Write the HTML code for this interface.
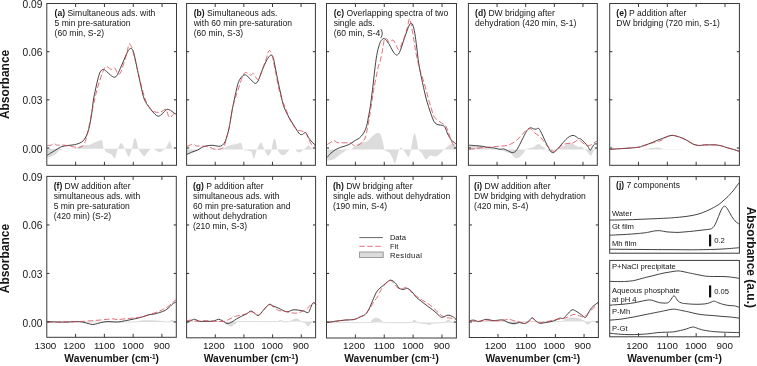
<!DOCTYPE html>
<html><head><meta charset="utf-8"><style>
html,body{margin:0;padding:0;background:#fff;}
svg{display:block;filter:blur(0.3px);}
</style></head><body>
<svg width="757" height="366" viewBox="0 0 757 366">
<rect width="757" height="366" fill="#fff"/>
<g font-family='"Liberation Sans", sans-serif'>
<text x="54.60" y="15.70" font-size="8.55" fill="#151515"><tspan font-weight="bold">(a)</tspan> Simultaneous ads. with</text>
<text x="54.60" y="25.70" font-size="8.55" fill="#151515">5 min pre-saturation</text>
<text x="54.60" y="35.70" font-size="8.55" fill="#151515">(60 min, S-2)</text>
<path d="M47.20,157.80 C48.10,157.52 50.98,156.92 52.60,156.10 C54.22,155.28 55.63,153.90 56.90,152.90 C58.17,151.90 58.73,150.78 60.20,150.10 C61.67,149.42 64.07,149.05 65.70,148.80 C67.33,148.55 68.37,148.73 70.00,148.60 C71.63,148.47 74.03,148.28 75.50,148.00 C76.97,147.72 77.33,147.37 78.80,146.90 C80.27,146.43 82.48,145.57 84.30,145.20 C86.12,144.83 88.07,145.15 89.70,144.70 C91.33,144.25 92.82,143.05 94.10,142.50 C95.38,141.95 96.32,141.77 97.40,141.40 C98.48,141.03 99.78,140.27 100.60,140.30 C101.42,140.33 101.83,140.32 102.30,141.60 C102.77,142.88 103.03,146.73 103.40,148.00 C103.77,149.27 103.97,148.48 104.50,149.20 C105.03,149.92 105.53,151.50 106.60,152.30 C107.67,153.10 109.53,153.00 110.90,154.00 C112.27,155.00 113.87,158.47 114.80,158.30 C115.73,158.13 115.97,154.58 116.50,153.00 C117.03,151.42 117.50,150.13 118.00,148.80 C118.50,147.47 118.95,145.97 119.50,145.00 C120.05,144.03 120.72,143.00 121.30,143.00 C121.88,143.00 122.42,144.03 123.00,145.00 C123.58,145.97 124.13,147.30 124.80,148.80 C125.47,150.30 126.30,152.68 127.00,154.00 C127.70,155.32 128.42,156.87 129.00,156.70 C129.58,156.53 130.00,154.32 130.50,153.00 C131.00,151.68 131.50,150.80 132.00,148.80 C132.50,146.80 133.00,142.78 133.50,141.00 C134.00,139.22 134.50,138.10 135.00,138.10 C135.50,138.10 135.92,139.22 136.50,141.00 C137.08,142.78 137.67,146.72 138.50,148.80 C139.33,150.88 140.53,152.28 141.50,153.50 C142.47,154.72 143.30,156.27 144.30,156.10 C145.30,155.93 146.47,153.68 147.50,152.50 C148.53,151.32 149.58,149.62 150.50,149.00 C151.42,148.38 152.25,148.72 153.00,148.80 C153.75,148.88 154.33,149.13 155.00,149.50 C155.67,149.87 156.23,150.53 157.00,151.00 C157.77,151.47 158.77,152.30 159.60,152.30 C160.43,152.30 161.10,151.55 162.00,151.00 C162.90,150.45 164.17,149.83 165.00,149.00 C165.83,148.17 166.27,147.27 167.00,146.00 C167.73,144.73 168.73,141.73 169.40,141.40 C170.07,141.07 170.45,142.77 171.00,144.00 C171.55,145.23 171.82,148.00 172.70,148.80 C173.58,149.60 175.70,148.80 176.30,148.80 L176.30,148.70 L47.20,148.70 Z" fill="#dcdcdc" stroke="none"/>
<path d="M47.20,155.30 C47.75,154.95 49.25,153.98 50.50,153.20 C51.75,152.42 52.90,151.67 54.70,150.60 C56.50,149.53 59.12,147.65 61.30,146.80 C63.48,145.95 65.62,145.85 67.80,145.50 C69.98,145.15 72.40,145.12 74.40,144.70 C76.40,144.28 78.35,143.65 79.80,143.00 C81.25,142.35 82.10,141.80 83.10,140.80 C84.10,139.80 84.98,138.53 85.80,137.00 C86.62,135.47 87.35,133.60 88.00,131.60 C88.65,129.60 89.08,127.93 89.70,125.00 C90.32,122.07 91.08,118.17 91.70,114.00 C92.32,109.83 92.75,104.17 93.40,100.00 C94.05,95.83 94.78,92.75 95.60,89.00 C96.42,85.25 97.52,80.37 98.30,77.50 C99.08,74.63 99.50,73.15 100.30,71.80 C101.10,70.45 102.07,69.47 103.10,69.40 C104.13,69.33 105.25,70.43 106.50,71.40 C107.75,72.37 109.35,74.23 110.60,75.20 C111.85,76.17 112.98,77.10 114.00,77.20 C115.02,77.30 115.67,77.22 116.70,75.80 C117.73,74.38 118.93,71.48 120.20,68.70 C121.47,65.92 123.05,61.95 124.30,59.10 C125.55,56.25 126.68,53.37 127.70,51.60 C128.72,49.83 129.58,48.80 130.40,48.50 C131.22,48.20 131.93,48.65 132.60,49.80 C133.27,50.95 133.57,51.93 134.40,55.40 C135.23,58.87 136.52,65.52 137.60,70.60 C138.68,75.68 139.80,81.17 140.90,85.90 C142.00,90.63 142.92,95.55 144.20,99.00 C145.48,102.45 147.15,104.43 148.60,106.60 C150.05,108.77 151.45,110.43 152.90,112.00 C154.35,113.57 156.02,115.45 157.30,116.00 C158.58,116.55 159.52,115.97 160.60,115.30 C161.68,114.63 162.72,112.98 163.80,112.00 C164.88,111.02 166.00,109.68 167.10,109.40 C168.20,109.12 169.30,109.75 170.40,110.30 C171.50,110.85 172.72,112.05 173.70,112.70 C174.68,113.35 175.87,113.95 176.30,114.20" fill="none" stroke="#383838" stroke-width="0.95"/>
<path d="M47.20,145.50 C47.82,145.45 49.73,145.55 50.90,145.20 C52.07,144.85 53.20,143.40 54.20,143.40 C55.20,143.40 55.53,144.93 56.90,145.20 C58.27,145.47 60.58,144.92 62.40,145.00 C64.22,145.08 65.98,145.40 67.80,145.70 C69.62,146.00 71.47,146.52 73.30,146.80 C75.13,147.08 77.17,147.58 78.80,147.40 C80.43,147.22 82.02,146.70 83.10,145.70 C84.18,144.70 84.57,143.40 85.30,141.40 C86.03,139.40 86.83,136.43 87.50,133.70 C88.17,130.97 88.55,128.78 89.30,125.00 C90.05,121.22 91.08,115.33 92.00,111.00 C92.92,106.67 93.98,102.50 94.80,99.00 C95.62,95.50 96.08,93.00 96.90,90.00 C97.72,87.00 98.78,83.87 99.70,81.00 C100.62,78.13 101.50,75.08 102.40,72.80 C103.30,70.52 104.18,68.22 105.10,67.30 C106.02,66.38 106.87,66.95 107.90,67.30 C108.93,67.65 110.28,69.28 111.30,69.40 C112.32,69.52 113.32,68.12 114.00,68.00 C114.68,67.88 114.72,67.67 115.40,68.70 C116.08,69.73 117.20,73.63 118.10,74.20 C119.00,74.77 119.77,74.15 120.80,72.10 C121.83,70.05 123.27,65.08 124.30,61.90 C125.33,58.72 126.22,55.97 127.00,53.00 C127.78,50.03 128.20,45.02 129.00,44.10 C129.80,43.18 131.00,45.68 131.80,47.50 C132.60,49.32 133.00,51.88 133.80,55.00 C134.60,58.12 135.60,62.15 136.60,66.20 C137.60,70.25 138.72,74.93 139.80,79.30 C140.88,83.67 142.00,88.58 143.10,92.40 C144.20,96.22 145.13,99.47 146.40,102.20 C147.67,104.93 149.25,107.17 150.70,108.80 C152.15,110.43 153.45,111.47 155.10,112.00 C156.75,112.53 158.78,112.43 160.60,112.00 C162.42,111.57 164.73,108.85 166.00,109.40 C167.27,109.95 167.47,113.95 168.20,115.30 C168.93,116.65 169.48,117.75 170.40,117.50 C171.32,117.25 172.72,114.35 173.70,113.80 C174.68,113.25 175.87,114.13 176.30,114.20" fill="none" stroke="#d83c4a" stroke-width="0.75" stroke-dasharray="5.6,2.5"/>
<rect x="46.80" y="3.50" width="129.70" height="161.80" fill="none" stroke="#3a3a3a" stroke-width="1"/>
<line x1="75.62" y1="3.50" x2="75.62" y2="7.00" stroke="#3a3a3a" stroke-width="1"/>
<line x1="75.62" y1="165.30" x2="75.62" y2="161.80" stroke="#3a3a3a" stroke-width="1"/>
<line x1="104.44" y1="3.50" x2="104.44" y2="7.00" stroke="#3a3a3a" stroke-width="1"/>
<line x1="104.44" y1="165.30" x2="104.44" y2="161.80" stroke="#3a3a3a" stroke-width="1"/>
<line x1="133.27" y1="3.50" x2="133.27" y2="7.00" stroke="#3a3a3a" stroke-width="1"/>
<line x1="133.27" y1="165.30" x2="133.27" y2="161.80" stroke="#3a3a3a" stroke-width="1"/>
<line x1="162.09" y1="3.50" x2="162.09" y2="7.00" stroke="#3a3a3a" stroke-width="1"/>
<line x1="162.09" y1="165.30" x2="162.09" y2="161.80" stroke="#3a3a3a" stroke-width="1"/>
<line x1="46.80" y1="148.00" x2="49.40" y2="148.00" stroke="#3a3a3a" stroke-width="1.1"/>
<line x1="176.50" y1="148.00" x2="173.90" y2="148.00" stroke="#3a3a3a" stroke-width="1.1"/>
<line x1="46.80" y1="99.83" x2="49.40" y2="99.83" stroke="#3a3a3a" stroke-width="1.1"/>
<line x1="176.50" y1="99.83" x2="173.90" y2="99.83" stroke="#3a3a3a" stroke-width="1.1"/>
<line x1="46.80" y1="51.66" x2="49.40" y2="51.66" stroke="#3a3a3a" stroke-width="1.1"/>
<line x1="176.50" y1="51.66" x2="173.90" y2="51.66" stroke="#3a3a3a" stroke-width="1.1"/>
<text x="193.70" y="15.70" font-size="8.55" fill="#151515"><tspan font-weight="bold">(b)</tspan> Simultaneous ads.</text>
<text x="193.70" y="25.70" font-size="8.55" fill="#151515">with 60 min pre-saturation</text>
<text x="193.70" y="35.70" font-size="8.55" fill="#151515">(60 min, S-3)</text>
<path d="M187.00,154.40 C187.78,154.17 190.27,153.48 191.70,153.00 C193.13,152.52 194.17,152.03 195.60,151.50 C197.03,150.97 199.07,150.17 200.30,149.80 C201.53,149.43 201.38,149.40 203.00,149.30 C204.62,149.20 207.83,149.25 210.00,149.20 C212.17,149.15 213.95,149.10 216.00,149.00 C218.05,148.90 220.45,149.05 222.30,148.60 C224.15,148.15 225.50,146.93 227.10,146.30 C228.70,145.67 230.47,145.13 231.90,144.80 C233.33,144.47 234.43,144.62 235.70,144.30 C236.97,143.98 238.55,143.05 239.50,142.90 C240.45,142.75 240.83,142.45 241.40,143.40 C241.97,144.35 242.25,147.40 242.90,148.60 C243.55,149.80 244.27,150.20 245.30,150.60 C246.33,151.00 248.07,150.77 249.10,151.00 C250.13,151.23 250.72,150.72 251.50,152.00 C252.28,153.28 253.13,158.37 253.80,158.70 C254.47,159.03 255.02,155.45 255.50,154.00 C255.98,152.55 256.20,151.33 256.70,150.00 C257.20,148.67 257.78,147.27 258.50,146.00 C259.22,144.73 260.25,142.40 261.00,142.40 C261.75,142.40 262.45,144.80 263.00,146.00 C263.55,147.20 263.80,148.43 264.30,149.60 C264.80,150.77 265.35,151.97 266.00,153.00 C266.65,154.03 267.45,155.80 268.20,155.80 C268.95,155.80 269.95,154.03 270.50,153.00 C271.05,151.97 271.08,151.43 271.50,149.60 C271.92,147.77 272.52,143.83 273.00,142.00 C273.48,140.17 273.90,138.60 274.40,138.60 C274.90,138.60 275.48,140.17 276.00,142.00 C276.52,143.83 276.83,147.68 277.50,149.60 C278.17,151.52 279.08,152.55 280.00,153.50 C280.92,154.45 282.00,155.30 283.00,155.30 C284.00,155.30 285.00,154.38 286.00,153.50 C287.00,152.62 288.17,150.65 289.00,150.00 C289.83,149.35 290.00,149.67 291.00,149.60 C292.00,149.53 294.00,149.28 295.00,149.60 C296.00,149.92 296.30,151.02 297.00,151.50 C297.70,151.98 298.37,152.58 299.20,152.50 C300.03,152.42 301.20,151.48 302.00,151.00 C302.80,150.52 303.25,150.27 304.00,149.60 C304.75,148.93 305.70,147.72 306.50,147.00 C307.30,146.28 308.13,145.30 308.80,145.30 C309.47,145.30 309.78,146.28 310.50,147.00 C311.22,147.72 312.18,149.17 313.10,149.60 C314.02,150.03 315.52,149.60 316.00,149.60 L316.00,149.40 L187.00,149.40 Z" fill="#dcdcdc" stroke="none"/>
<path d="M187.00,154.40 C187.78,154.03 189.95,152.92 191.70,152.20 C193.45,151.48 195.73,150.93 197.50,150.10 C199.27,149.27 200.72,147.92 202.30,147.20 C203.88,146.48 205.25,146.12 207.00,145.80 C208.75,145.48 210.88,145.22 212.80,145.30 C214.72,145.38 216.92,146.30 218.50,146.30 C220.08,146.30 221.18,146.10 222.30,145.30 C223.42,144.50 224.40,143.10 225.20,141.50 C226.00,139.90 226.47,137.87 227.10,135.70 C227.73,133.53 228.43,131.12 229.00,128.50 C229.57,125.88 230.02,122.83 230.50,120.00 C230.98,117.17 231.28,114.83 231.90,111.50 C232.52,108.17 233.55,103.17 234.20,100.00 C234.85,96.83 235.12,95.40 235.80,92.50 C236.48,89.60 237.33,85.20 238.30,82.60 C239.27,80.00 240.50,78.20 241.60,76.90 C242.70,75.60 243.82,74.80 244.90,74.80 C245.98,74.80 246.88,75.87 248.10,76.90 C249.32,77.93 251.02,79.92 252.20,81.00 C253.38,82.08 254.23,83.40 255.20,83.40 C256.17,83.40 257.00,82.77 258.00,81.00 C259.00,79.23 259.98,75.80 261.20,72.80 C262.42,69.80 264.07,65.60 265.30,63.00 C266.53,60.40 267.63,58.52 268.60,57.20 C269.57,55.88 270.33,55.05 271.10,55.10 C271.87,55.15 272.62,56.02 273.20,57.50 C273.78,58.98 273.87,60.37 274.60,64.00 C275.33,67.63 276.55,74.20 277.60,79.30 C278.65,84.40 279.92,90.20 280.90,94.60 C281.88,99.00 282.43,102.42 283.50,105.70 C284.57,108.98 286.03,111.75 287.30,114.30 C288.57,116.85 289.67,118.60 291.10,121.00 C292.53,123.40 294.47,126.53 295.90,128.70 C297.33,130.87 298.58,133.05 299.70,134.00 C300.82,134.95 301.63,134.65 302.60,134.40 C303.57,134.15 304.55,132.02 305.50,132.50 C306.45,132.98 307.35,135.87 308.30,137.30 C309.25,138.73 310.23,139.98 311.20,141.10 C312.17,142.22 313.30,143.37 314.10,144.00 C314.90,144.63 315.68,144.75 316.00,144.90" fill="none" stroke="#383838" stroke-width="0.95"/>
<path d="M187.00,146.30 C187.32,146.22 188.15,146.12 188.90,145.80 C189.65,145.48 190.70,144.68 191.50,144.40 C192.30,144.12 192.95,143.85 193.70,144.10 C194.45,144.35 195.05,145.58 196.00,145.90 C196.95,146.22 197.88,145.93 199.40,146.00 C200.92,146.07 203.50,146.10 205.10,146.30 C206.70,146.50 207.40,146.73 209.00,147.20 C210.60,147.67 212.95,148.78 214.70,149.10 C216.45,149.42 218.07,149.33 219.50,149.10 C220.93,148.87 222.35,148.65 223.30,147.70 C224.25,146.75 224.65,145.08 225.20,143.40 C225.75,141.72 226.05,139.67 226.60,137.60 C227.15,135.53 227.93,133.43 228.50,131.00 C229.07,128.57 229.37,126.57 230.00,123.00 C230.63,119.43 231.47,113.60 232.30,109.60 C233.13,105.60 234.00,102.40 235.00,99.00 C236.00,95.60 237.20,92.48 238.30,89.20 C239.40,85.92 240.50,82.03 241.60,79.30 C242.70,76.57 243.82,73.75 244.90,72.80 C245.98,71.85 247.15,73.20 248.10,73.60 C249.05,74.00 249.78,75.20 250.60,75.20 C251.42,75.20 252.32,73.60 253.00,73.60 C253.68,73.60 254.02,74.25 254.70,75.20 C255.38,76.15 256.28,78.88 257.10,79.30 C257.92,79.72 258.63,79.60 259.60,77.70 C260.57,75.80 261.80,71.03 262.90,67.90 C264.00,64.77 265.18,61.77 266.20,58.90 C267.22,56.03 268.05,51.38 269.00,50.70 C269.95,50.02 271.00,52.22 271.90,54.80 C272.80,57.38 273.72,63.00 274.40,66.20 C275.08,69.40 275.28,70.37 276.00,74.00 C276.72,77.63 277.70,83.67 278.70,88.00 C279.70,92.33 280.88,96.73 282.00,100.00 C283.12,103.27 284.20,104.57 285.40,107.60 C286.60,110.63 287.93,115.32 289.20,118.20 C290.47,121.08 291.72,123.00 293.00,124.90 C294.28,126.80 295.78,128.65 296.90,129.60 C298.02,130.55 298.60,130.27 299.70,130.60 C300.80,130.93 302.38,131.12 303.50,131.60 C304.62,132.08 305.60,132.40 306.40,133.50 C307.20,134.60 307.50,136.45 308.30,138.20 C309.10,139.95 310.23,142.72 311.20,144.00 C312.17,145.28 313.30,145.65 314.10,145.90 C314.90,146.15 315.68,145.57 316.00,145.50" fill="none" stroke="#d83c4a" stroke-width="0.75" stroke-dasharray="5.6,2.5"/>
<rect x="186.60" y="3.50" width="128.80" height="161.80" fill="none" stroke="#3a3a3a" stroke-width="1"/>
<line x1="215.22" y1="3.50" x2="215.22" y2="7.00" stroke="#3a3a3a" stroke-width="1"/>
<line x1="215.22" y1="165.30" x2="215.22" y2="161.80" stroke="#3a3a3a" stroke-width="1"/>
<line x1="243.84" y1="3.50" x2="243.84" y2="7.00" stroke="#3a3a3a" stroke-width="1"/>
<line x1="243.84" y1="165.30" x2="243.84" y2="161.80" stroke="#3a3a3a" stroke-width="1"/>
<line x1="272.47" y1="3.50" x2="272.47" y2="7.00" stroke="#3a3a3a" stroke-width="1"/>
<line x1="272.47" y1="165.30" x2="272.47" y2="161.80" stroke="#3a3a3a" stroke-width="1"/>
<line x1="301.09" y1="3.50" x2="301.09" y2="7.00" stroke="#3a3a3a" stroke-width="1"/>
<line x1="301.09" y1="165.30" x2="301.09" y2="161.80" stroke="#3a3a3a" stroke-width="1"/>
<line x1="186.60" y1="148.00" x2="189.20" y2="148.00" stroke="#3a3a3a" stroke-width="1.1"/>
<line x1="315.40" y1="148.00" x2="312.80" y2="148.00" stroke="#3a3a3a" stroke-width="1.1"/>
<line x1="186.60" y1="99.83" x2="189.20" y2="99.83" stroke="#3a3a3a" stroke-width="1.1"/>
<line x1="315.40" y1="99.83" x2="312.80" y2="99.83" stroke="#3a3a3a" stroke-width="1.1"/>
<line x1="186.60" y1="51.66" x2="189.20" y2="51.66" stroke="#3a3a3a" stroke-width="1.1"/>
<line x1="315.40" y1="51.66" x2="312.80" y2="51.66" stroke="#3a3a3a" stroke-width="1.1"/>
<text x="333.70" y="15.70" font-size="8.55" fill="#151515"><tspan font-weight="bold">(c)</tspan> Overlapping spectra of two</text>
<text x="333.70" y="25.70" font-size="8.55" fill="#151515">single ads.</text>
<text x="333.70" y="35.70" font-size="8.55" fill="#151515">(60 min, S-4)</text>
<path d="M327.20,160.60 C328.23,160.40 331.55,160.22 333.40,159.40 C335.25,158.58 336.67,156.83 338.30,155.70 C339.93,154.57 341.77,153.53 343.20,152.60 C344.63,151.67 345.67,150.63 346.90,150.10 C348.13,149.57 349.37,150.02 350.60,149.40 C351.83,148.78 353.07,147.30 354.30,146.40 C355.53,145.50 356.57,144.72 358.00,144.00 C359.43,143.28 361.47,142.52 362.90,142.10 C364.33,141.68 365.37,142.10 366.60,141.50 C367.83,140.90 369.07,139.62 370.30,138.50 C371.53,137.38 372.77,135.73 374.00,134.80 C375.23,133.87 376.58,132.90 377.70,132.90 C378.82,132.90 379.78,133.05 380.70,134.80 C381.62,136.55 382.58,140.95 383.20,143.40 C383.82,145.85 383.77,148.15 384.40,149.50 C385.03,150.85 386.07,150.88 387.00,151.50 C387.93,152.12 389.08,152.12 390.00,153.20 C390.92,154.28 391.68,156.28 392.50,158.00 C393.32,159.72 394.15,163.67 394.90,163.50 C395.65,163.33 396.28,159.33 397.00,157.00 C397.72,154.67 398.52,151.05 399.20,149.50 C399.88,147.95 400.47,147.70 401.10,147.70 C401.73,147.70 402.27,148.62 403.00,149.50 C403.73,150.38 404.60,151.77 405.50,153.00 C406.40,154.23 407.57,157.07 408.40,156.90 C409.23,156.73 409.82,154.82 410.50,152.00 C411.18,149.18 411.82,143.08 412.50,140.00 C413.18,136.92 413.90,133.50 414.60,133.50 C415.30,133.50 416.05,137.33 416.70,140.00 C417.35,142.67 417.62,147.30 418.50,149.50 C419.38,151.70 420.80,151.57 422.00,153.20 C423.20,154.83 424.70,158.58 425.70,159.30 C426.70,160.02 427.18,158.12 428.00,157.50 C428.82,156.88 429.68,155.85 430.60,155.60 C431.52,155.35 432.48,155.88 433.50,156.00 C434.52,156.12 435.78,156.55 436.70,156.30 C437.62,156.05 438.18,155.22 439.00,154.50 C439.82,153.78 440.75,152.83 441.60,152.00 C442.45,151.17 443.20,150.33 444.10,149.50 C445.00,148.67 445.98,147.82 447.00,147.00 C448.02,146.18 449.03,145.10 450.20,144.60 C451.37,144.10 452.97,143.60 454.00,144.00 C455.03,144.40 456.00,146.50 456.40,147.00 L456.40,149.50 L327.20,149.50 Z" fill="#dcdcdc" stroke="none"/>
<path d="M327.10,157.50 C327.73,156.78 329.45,154.53 330.90,153.20 C332.35,151.87 334.15,150.48 335.80,149.50 C337.45,148.52 339.15,147.92 340.80,147.30 C342.45,146.68 344.07,146.42 345.70,145.80 C347.33,145.18 348.97,144.52 350.60,143.60 C352.23,142.68 354.07,141.20 355.50,140.30 C356.93,139.40 357.97,139.23 359.20,138.20 C360.43,137.17 361.87,135.53 362.90,134.10 C363.93,132.67 364.68,131.33 365.40,129.60 C366.12,127.87 366.70,125.80 367.20,123.70 C367.70,121.60 367.97,119.33 368.40,117.00 C368.83,114.67 369.27,113.03 369.80,109.70 C370.33,106.37 371.00,101.62 371.60,97.00 C372.20,92.38 372.80,87.17 373.40,82.00 C374.00,76.83 374.55,70.95 375.20,66.00 C375.85,61.05 376.50,56.17 377.30,52.30 C378.10,48.43 379.22,44.92 380.00,42.80 C380.78,40.68 381.40,40.30 382.00,39.60 C382.60,38.90 383.02,38.63 383.60,38.60 C384.18,38.57 384.83,38.83 385.50,39.40 C386.17,39.97 386.92,41.07 387.60,42.00 C388.28,42.93 388.83,43.67 389.60,45.00 C390.37,46.33 391.37,48.57 392.20,50.00 C393.03,51.43 393.87,52.77 394.60,53.60 C395.33,54.43 395.95,54.93 396.60,55.00 C397.25,55.07 397.88,54.75 398.50,54.00 C399.12,53.25 399.68,52.00 400.30,50.50 C400.92,49.00 401.53,47.00 402.20,45.00 C402.87,43.00 403.57,40.68 404.30,38.50 C405.03,36.32 405.77,34.15 406.60,31.90 C407.43,29.65 408.55,26.42 409.30,25.00 C410.05,23.58 410.52,23.40 411.10,23.40 C411.68,23.40 412.18,23.37 412.80,25.00 C413.42,26.63 414.15,29.53 414.80,33.20 C415.45,36.87 416.13,42.57 416.70,47.00 C417.27,51.43 417.68,56.02 418.20,59.80 C418.72,63.58 419.25,66.68 419.80,69.70 C420.35,72.72 420.87,74.90 421.50,77.90 C422.13,80.90 422.85,84.35 423.60,87.70 C424.35,91.05 425.18,94.87 426.00,98.00 C426.82,101.13 427.70,103.92 428.50,106.50 C429.30,109.08 429.85,110.95 430.80,113.50 C431.75,116.05 433.02,119.93 434.20,121.80 C435.38,123.67 436.47,124.10 437.90,124.70 C439.33,125.30 441.57,124.87 442.80,125.40 C444.03,125.93 444.48,126.47 445.30,127.90 C446.12,129.33 446.68,131.95 447.70,134.00 C448.72,136.05 450.28,138.77 451.40,140.20 C452.52,141.63 453.58,141.90 454.40,142.60 C455.22,143.30 455.98,144.10 456.30,144.40" fill="none" stroke="#383838" stroke-width="0.95"/>
<path d="M327.10,144.60 C327.67,144.25 329.35,143.15 330.50,142.50 C331.65,141.85 333.08,140.82 334.00,140.70 C334.92,140.58 335.28,141.45 336.00,141.80 C336.72,142.15 337.10,142.63 338.30,142.80 C339.50,142.97 341.15,142.75 343.20,142.80 C345.25,142.85 348.75,142.63 350.60,143.10 C352.45,143.57 352.87,145.35 354.30,145.60 C355.73,145.85 357.77,145.28 359.20,144.60 C360.63,143.92 361.87,142.73 362.90,141.50 C363.93,140.27 364.65,139.37 365.40,137.20 C366.15,135.03 366.75,131.70 367.40,128.50 C368.05,125.30 368.77,121.08 369.30,118.00 C369.83,114.92 370.10,113.20 370.60,110.00 C371.10,106.80 371.73,102.47 372.30,98.80 C372.87,95.13 373.28,91.97 374.00,88.00 C374.72,84.03 375.88,78.58 376.60,75.00 C377.32,71.42 377.73,68.68 378.30,66.50 C378.87,64.32 379.37,64.27 380.00,61.90 C380.63,59.53 381.42,55.87 382.10,52.30 C382.78,48.73 383.53,42.85 384.10,40.50 C384.67,38.15 384.98,38.37 385.50,38.20 C386.02,38.03 386.63,38.85 387.20,39.50 C387.77,40.15 388.27,41.85 388.90,42.10 C389.53,42.35 390.32,41.35 391.00,41.00 C391.68,40.65 392.38,39.83 393.00,40.00 C393.62,40.17 394.13,41.08 394.70,42.00 C395.27,42.92 395.77,44.23 396.40,45.50 C397.03,46.77 397.70,49.60 398.50,49.60 C399.30,49.60 400.45,47.10 401.20,45.50 C401.95,43.90 402.43,41.48 403.00,40.00 C403.57,38.52 403.88,38.63 404.60,36.60 C405.32,34.57 406.52,30.75 407.30,27.80 C408.08,24.85 408.73,19.82 409.30,18.90 C409.87,17.98 410.23,20.60 410.70,22.30 C411.17,24.00 411.53,25.92 412.10,29.10 C412.67,32.28 413.53,37.83 414.10,41.40 C414.67,44.97 414.95,47.43 415.50,50.50 C416.05,53.57 416.68,56.60 417.40,59.80 C418.12,63.00 418.85,66.42 419.80,69.70 C420.75,72.98 422.00,75.95 423.10,79.50 C424.20,83.05 425.43,87.45 426.40,91.00 C427.37,94.55 428.05,97.80 428.90,100.80 C429.75,103.80 430.73,106.53 431.50,109.00 C432.27,111.47 432.63,113.88 433.50,115.60 C434.37,117.32 435.35,118.07 436.70,119.30 C438.05,120.53 440.17,121.98 441.60,123.00 C443.03,124.02 444.28,124.17 445.30,125.40 C446.32,126.63 446.88,128.35 447.70,130.40 C448.52,132.45 449.25,135.25 450.20,137.70 C451.15,140.15 452.38,143.67 453.40,145.10 C454.42,146.53 455.82,146.10 456.30,146.30" fill="none" stroke="#d83c4a" stroke-width="0.75" stroke-dasharray="5.6,2.5"/>
<rect x="326.50" y="3.50" width="130.00" height="161.80" fill="none" stroke="#3a3a3a" stroke-width="1"/>
<line x1="355.39" y1="3.50" x2="355.39" y2="7.00" stroke="#3a3a3a" stroke-width="1"/>
<line x1="355.39" y1="165.30" x2="355.39" y2="161.80" stroke="#3a3a3a" stroke-width="1"/>
<line x1="384.28" y1="3.50" x2="384.28" y2="7.00" stroke="#3a3a3a" stroke-width="1"/>
<line x1="384.28" y1="165.30" x2="384.28" y2="161.80" stroke="#3a3a3a" stroke-width="1"/>
<line x1="413.17" y1="3.50" x2="413.17" y2="7.00" stroke="#3a3a3a" stroke-width="1"/>
<line x1="413.17" y1="165.30" x2="413.17" y2="161.80" stroke="#3a3a3a" stroke-width="1"/>
<line x1="442.06" y1="3.50" x2="442.06" y2="7.00" stroke="#3a3a3a" stroke-width="1"/>
<line x1="442.06" y1="165.30" x2="442.06" y2="161.80" stroke="#3a3a3a" stroke-width="1"/>
<line x1="326.50" y1="148.00" x2="329.10" y2="148.00" stroke="#3a3a3a" stroke-width="1.1"/>
<line x1="456.50" y1="148.00" x2="453.90" y2="148.00" stroke="#3a3a3a" stroke-width="1.1"/>
<line x1="326.50" y1="99.83" x2="329.10" y2="99.83" stroke="#3a3a3a" stroke-width="1.1"/>
<line x1="456.50" y1="99.83" x2="453.90" y2="99.83" stroke="#3a3a3a" stroke-width="1.1"/>
<line x1="326.50" y1="51.66" x2="329.10" y2="51.66" stroke="#3a3a3a" stroke-width="1.1"/>
<line x1="456.50" y1="51.66" x2="453.90" y2="51.66" stroke="#3a3a3a" stroke-width="1.1"/>
<text x="475.10" y="15.70" font-size="8.55" fill="#151515"><tspan font-weight="bold">(d)</tspan> DW bridging after</text>
<text x="475.10" y="25.70" font-size="8.55" fill="#151515">dehydration (420 min, S-1)</text>
<path d="M469.20,145.20 C470.17,145.27 472.73,145.40 475.00,145.60 C477.27,145.80 480.68,146.10 482.80,146.40 C484.92,146.70 486.17,147.03 487.70,147.40 C489.23,147.77 490.45,148.27 492.00,148.60 C493.55,148.93 495.67,149.20 497.00,149.40 C498.33,149.60 498.68,149.47 500.00,149.80 C501.32,150.13 503.07,150.73 504.90,151.40 C506.73,152.07 509.25,152.68 511.00,153.80 C512.75,154.92 513.95,157.58 515.40,158.10 C516.85,158.62 518.37,157.72 519.70,156.90 C521.03,156.08 522.38,154.43 523.40,153.20 C524.42,151.97 524.95,150.32 525.80,149.50 C526.65,148.68 527.38,148.63 528.50,148.30 C529.62,147.97 531.42,147.88 532.50,147.50 C533.58,147.12 533.98,146.58 535.00,146.00 C536.02,145.42 537.60,144.08 538.60,144.00 C539.60,143.92 540.18,145.00 541.00,145.50 C541.82,146.00 542.67,146.33 543.50,147.00 C544.33,147.67 545.17,148.83 546.00,149.50 C546.83,150.17 547.68,150.58 548.50,151.00 C549.32,151.42 550.15,152.00 550.90,152.00 C551.65,152.00 552.32,151.42 553.00,151.00 C553.68,150.58 553.83,150.08 555.00,149.50 C556.17,148.92 558.43,148.12 560.00,147.50 C561.57,146.88 562.63,146.58 564.40,145.80 C566.17,145.02 568.75,142.80 570.60,142.80 C572.45,142.80 574.07,145.10 575.50,145.80 C576.93,146.50 578.17,146.90 579.20,147.00 C580.23,147.10 580.88,146.08 581.70,146.40 C582.52,146.72 583.22,148.05 584.10,148.90 C584.98,149.75 585.87,150.37 587.00,151.50 C588.13,152.63 589.90,155.62 590.90,155.70 C591.90,155.78 592.32,153.03 593.00,152.00 C593.68,150.97 594.28,149.92 595.00,149.50 C595.72,149.08 596.92,149.50 597.30,149.50 L597.30,149.50 L469.20,149.50 Z" fill="#dcdcdc" stroke="none"/>
<path d="M469.20,145.20 C470.23,145.27 473.13,145.40 475.40,145.60 C477.67,145.80 480.75,146.12 482.80,146.40 C484.85,146.68 485.87,147.03 487.70,147.30 C489.53,147.57 491.75,147.67 493.80,148.00 C495.85,148.33 498.35,149.15 500.00,149.30 C501.65,149.45 502.47,148.70 503.70,148.90 C504.93,149.10 505.97,149.88 507.40,150.50 C508.83,151.12 510.87,152.55 512.30,152.60 C513.73,152.65 514.77,152.13 516.00,150.80 C517.23,149.47 518.47,146.87 519.70,144.60 C520.93,142.33 522.18,139.55 523.40,137.20 C524.62,134.85 525.83,132.07 527.00,130.50 C528.17,128.93 529.28,128.07 530.40,127.80 C531.52,127.53 532.75,128.67 533.70,128.90 C534.65,129.13 535.28,129.28 536.10,129.20 C536.92,129.12 537.67,127.68 538.60,128.40 C539.53,129.12 540.67,131.52 541.70,133.50 C542.73,135.48 543.67,137.93 544.80,140.30 C545.93,142.67 547.28,145.65 548.50,147.70 C549.72,149.75 550.88,152.08 552.10,152.60 C553.32,153.12 554.35,152.03 555.80,150.80 C557.25,149.57 559.15,147.05 560.80,145.20 C562.45,143.35 564.27,141.13 565.70,139.70 C567.13,138.27 568.18,137.32 569.40,136.60 C570.62,135.88 571.88,135.40 573.00,135.40 C574.12,135.40 575.17,136.05 576.10,136.60 C577.03,137.15 577.88,138.35 578.60,138.70 C579.32,139.05 579.48,138.13 580.40,138.70 C581.32,139.27 582.87,140.82 584.10,142.10 C585.33,143.38 586.77,145.07 587.80,146.40 C588.83,147.73 589.48,150.10 590.30,150.10 C591.12,150.10 591.98,147.42 592.70,146.40 C593.42,145.38 593.83,144.40 594.60,144.00 C595.37,143.60 596.85,144.00 597.30,144.00" fill="none" stroke="#383838" stroke-width="0.95"/>
<path d="M469.20,149.50 C470.23,149.33 473.13,148.80 475.40,148.50 C477.67,148.20 480.35,147.93 482.80,147.70 C485.25,147.47 487.65,147.32 490.10,147.10 C492.55,146.88 495.03,146.62 497.50,146.40 C499.97,146.18 502.65,146.20 504.90,145.80 C507.15,145.40 508.95,145.02 511.00,144.00 C513.05,142.98 515.35,141.23 517.20,139.70 C519.05,138.17 520.67,136.33 522.10,134.80 C523.53,133.27 524.67,131.53 525.80,130.50 C526.93,129.47 527.95,128.77 528.90,128.60 C529.85,128.43 530.50,128.77 531.50,129.50 C532.50,130.23 533.52,131.82 534.90,133.00 C536.28,134.18 538.37,135.28 539.80,136.60 C541.23,137.92 542.27,139.37 543.50,140.90 C544.73,142.43 545.97,144.37 547.20,145.80 C548.43,147.23 549.77,148.57 550.90,149.50 C552.03,150.43 552.77,151.60 554.00,151.40 C555.23,151.20 556.77,149.43 558.30,148.30 C559.83,147.17 561.57,145.42 563.20,144.60 C564.83,143.78 566.47,143.70 568.10,143.40 C569.73,143.10 571.45,143.32 573.00,142.80 C574.55,142.28 576.17,140.62 577.40,140.30 C578.63,139.98 579.28,140.28 580.40,140.90 C581.52,141.52 582.87,143.18 584.10,144.00 C585.33,144.82 586.57,145.70 587.80,145.80 C589.03,145.90 590.27,145.22 591.50,144.60 C592.73,143.98 594.23,142.62 595.20,142.10 C596.17,141.58 596.95,141.60 597.30,141.50" fill="none" stroke="#d83c4a" stroke-width="0.75" stroke-dasharray="5.6,2.5"/>
<rect x="468.40" y="3.50" width="128.90" height="161.80" fill="none" stroke="#3a3a3a" stroke-width="1"/>
<line x1="497.04" y1="3.50" x2="497.04" y2="7.00" stroke="#3a3a3a" stroke-width="1"/>
<line x1="497.04" y1="165.30" x2="497.04" y2="161.80" stroke="#3a3a3a" stroke-width="1"/>
<line x1="525.69" y1="3.50" x2="525.69" y2="7.00" stroke="#3a3a3a" stroke-width="1"/>
<line x1="525.69" y1="165.30" x2="525.69" y2="161.80" stroke="#3a3a3a" stroke-width="1"/>
<line x1="554.33" y1="3.50" x2="554.33" y2="7.00" stroke="#3a3a3a" stroke-width="1"/>
<line x1="554.33" y1="165.30" x2="554.33" y2="161.80" stroke="#3a3a3a" stroke-width="1"/>
<line x1="582.98" y1="3.50" x2="582.98" y2="7.00" stroke="#3a3a3a" stroke-width="1"/>
<line x1="582.98" y1="165.30" x2="582.98" y2="161.80" stroke="#3a3a3a" stroke-width="1"/>
<line x1="468.40" y1="148.00" x2="471.00" y2="148.00" stroke="#3a3a3a" stroke-width="1.1"/>
<line x1="597.30" y1="148.00" x2="594.70" y2="148.00" stroke="#3a3a3a" stroke-width="1.1"/>
<line x1="468.40" y1="99.83" x2="471.00" y2="99.83" stroke="#3a3a3a" stroke-width="1.1"/>
<line x1="597.30" y1="99.83" x2="594.70" y2="99.83" stroke="#3a3a3a" stroke-width="1.1"/>
<line x1="468.40" y1="51.66" x2="471.00" y2="51.66" stroke="#3a3a3a" stroke-width="1.1"/>
<line x1="597.30" y1="51.66" x2="594.70" y2="51.66" stroke="#3a3a3a" stroke-width="1.1"/>
<text x="616.30" y="15.70" font-size="8.55" fill="#151515"><tspan font-weight="bold">(e)</tspan> P addition after</text>
<text x="616.30" y="25.70" font-size="8.55" fill="#151515">DW bridging (720 min, S-1)</text>
<path d="M610.00,149.40 C615.00,149.40 634.00,149.48 640.00,149.40 C646.00,149.32 644.00,149.15 646.00,148.90 C648.00,148.65 650.03,148.13 652.00,147.90 C653.97,147.67 655.97,147.45 657.80,147.50 C659.63,147.55 661.47,147.92 663.00,148.20 C664.53,148.48 654.30,149.00 667.00,149.20 C679.70,149.40 727.17,149.37 739.20,149.40 L739.20,149.40 L610.00,149.40 Z" fill="#dcdcdc" stroke="none"/>
<path d="M610.00,149.40 C611.60,149.28 616.42,148.92 619.60,148.70 C622.78,148.48 625.92,148.35 629.10,148.10 C632.28,147.85 636.30,147.62 638.70,147.20 C641.10,146.78 641.92,146.12 643.50,145.60 C645.08,145.08 646.62,144.67 648.20,144.10 C649.78,143.53 651.40,142.87 653.00,142.20 C654.60,141.53 656.20,140.73 657.80,140.10 C659.40,139.47 661.00,139.00 662.60,138.40 C664.20,137.80 665.82,137.02 667.40,136.50 C668.98,135.98 670.52,135.33 672.10,135.30 C673.68,135.27 675.33,135.88 676.90,136.30 C678.47,136.72 679.78,137.10 681.50,137.80 C683.22,138.50 685.30,139.47 687.20,140.50 C689.10,141.53 690.98,143.17 692.90,144.00 C694.82,144.83 696.78,145.35 698.70,145.50 C700.62,145.65 702.48,145.00 704.40,144.90 C706.32,144.80 708.28,144.90 710.20,144.90 C712.12,144.90 714.00,144.73 715.90,144.90 C717.80,145.07 719.68,145.42 721.60,145.90 C723.52,146.38 725.48,147.23 727.40,147.80 C729.32,148.37 731.13,148.72 733.10,149.30 C735.07,149.88 738.18,150.97 739.20,151.30" fill="none" stroke="#383838" stroke-width="0.95"/>
<path d="M610.00,149.40 C611.60,149.28 616.42,148.92 619.60,148.70 C622.78,148.48 625.92,148.35 629.10,148.10 C632.28,147.85 636.30,147.58 638.70,147.20 C641.10,146.82 641.92,146.27 643.50,145.80 C645.08,145.33 646.62,144.93 648.20,144.40 C649.78,143.87 651.40,143.10 653.00,142.60 C654.60,142.10 656.37,141.80 657.80,141.40 C659.23,141.00 660.00,140.98 661.60,140.20 C663.20,139.42 665.65,137.52 667.40,136.70 C669.15,135.88 670.52,135.37 672.10,135.30 C673.68,135.23 675.33,135.88 676.90,136.30 C678.47,136.72 679.78,137.10 681.50,137.80 C683.22,138.50 685.30,139.47 687.20,140.50 C689.10,141.53 690.98,143.17 692.90,144.00 C694.82,144.83 696.78,145.35 698.70,145.50 C700.62,145.65 702.48,145.05 704.40,144.90 C706.32,144.75 708.28,144.60 710.20,144.60 C712.12,144.60 714.00,144.68 715.90,144.90 C717.80,145.12 719.68,145.42 721.60,145.90 C723.52,146.38 725.48,147.23 727.40,147.80 C729.32,148.37 731.13,148.72 733.10,149.30 C735.07,149.88 738.18,150.97 739.20,151.30" fill="none" stroke="#d83c4a" stroke-width="0.75" stroke-dasharray="5.6,2.5"/>
<rect x="609.70" y="3.50" width="129.70" height="161.80" fill="none" stroke="#3a3a3a" stroke-width="1"/>
<line x1="638.52" y1="3.50" x2="638.52" y2="7.00" stroke="#3a3a3a" stroke-width="1"/>
<line x1="638.52" y1="165.30" x2="638.52" y2="161.80" stroke="#3a3a3a" stroke-width="1"/>
<line x1="667.34" y1="3.50" x2="667.34" y2="7.00" stroke="#3a3a3a" stroke-width="1"/>
<line x1="667.34" y1="165.30" x2="667.34" y2="161.80" stroke="#3a3a3a" stroke-width="1"/>
<line x1="696.17" y1="3.50" x2="696.17" y2="7.00" stroke="#3a3a3a" stroke-width="1"/>
<line x1="696.17" y1="165.30" x2="696.17" y2="161.80" stroke="#3a3a3a" stroke-width="1"/>
<line x1="724.99" y1="3.50" x2="724.99" y2="7.00" stroke="#3a3a3a" stroke-width="1"/>
<line x1="724.99" y1="165.30" x2="724.99" y2="161.80" stroke="#3a3a3a" stroke-width="1"/>
<line x1="609.70" y1="148.00" x2="612.30" y2="148.00" stroke="#3a3a3a" stroke-width="1.1"/>
<line x1="739.40" y1="148.00" x2="736.80" y2="148.00" stroke="#3a3a3a" stroke-width="1.1"/>
<line x1="609.70" y1="99.83" x2="612.30" y2="99.83" stroke="#3a3a3a" stroke-width="1.1"/>
<line x1="739.40" y1="99.83" x2="736.80" y2="99.83" stroke="#3a3a3a" stroke-width="1.1"/>
<line x1="609.70" y1="51.66" x2="612.30" y2="51.66" stroke="#3a3a3a" stroke-width="1.1"/>
<line x1="739.40" y1="51.66" x2="736.80" y2="51.66" stroke="#3a3a3a" stroke-width="1.1"/>
<text x="53.70" y="188.60" font-size="8.55" fill="#151515"><tspan font-weight="bold">(f)</tspan> DW addition after</text>
<text x="53.70" y="198.60" font-size="8.55" fill="#151515">simultaneous ads. with</text>
<text x="53.70" y="208.60" font-size="8.55" fill="#151515">5 min pre-saturation</text>
<text x="53.70" y="218.60" font-size="8.55" fill="#151515">(420 min) (S-2)</text>
<path d="M47.20,322.00 C61.00,322.00 114.53,322.17 130.00,322.00 C145.47,321.83 136.67,321.20 140.00,321.00 C143.33,320.80 146.67,320.77 150.00,320.80 C153.33,320.83 157.00,321.00 160.00,321.20 C163.00,321.40 166.00,322.12 168.00,322.00 C170.00,321.88 170.63,320.50 172.00,320.50 C173.37,320.50 175.50,321.75 176.20,322.00 L176.20,322.00 L47.20,322.00 Z" fill="#dcdcdc" stroke="none"/>
<path d="M47.20,322.00 C61.00,322.00 114.53,322.17 130.00,322.00 C145.47,321.83 136.67,321.20 140.00,321.00 C143.33,320.80 146.67,320.77 150.00,320.80 C153.33,320.83 157.00,321.00 160.00,321.20 C163.00,321.40 166.00,322.12 168.00,322.00 C170.00,321.88 170.63,320.50 172.00,320.50 C173.37,320.50 175.50,321.75 176.20,322.00" fill="none" stroke="#d4d4d4" stroke-width="0.8"/>
<path d="M47.20,321.60 C48.92,321.67 54.20,321.93 57.50,322.00 C60.80,322.07 63.82,322.07 67.00,322.00 C70.18,321.93 74.05,321.60 76.60,321.60 C79.15,321.60 80.38,321.68 82.30,322.00 C84.22,322.32 86.33,323.08 88.10,323.50 C89.87,323.92 91.32,324.50 92.90,324.50 C94.48,324.50 95.85,323.92 97.60,323.50 C99.35,323.08 101.48,322.32 103.40,322.00 C105.32,321.68 106.73,321.60 109.10,321.60 C111.47,321.60 114.90,322.15 117.60,322.00 C120.30,321.85 122.42,321.23 125.30,320.70 C128.18,320.17 132.03,319.43 134.90,318.80 C137.77,318.17 140.28,317.55 142.50,316.90 C144.72,316.25 146.28,315.38 148.20,314.90 C150.12,314.42 152.08,314.40 154.00,314.00 C155.92,313.60 157.78,313.13 159.70,312.50 C161.62,311.87 163.75,311.23 165.50,310.20 C167.25,309.17 168.93,307.42 170.20,306.30 C171.47,305.18 172.10,304.20 173.10,303.50 C174.10,302.80 175.68,302.33 176.20,302.10" fill="none" stroke="#383838" stroke-width="0.95"/>
<path d="M47.20,322.00 C48.92,322.03 54.20,322.20 57.50,322.20 C60.80,322.20 63.82,322.10 67.00,322.00 C70.18,321.90 73.73,321.72 76.60,321.60 C79.47,321.48 81.65,321.45 84.20,321.30 C86.75,321.15 89.35,320.90 91.90,320.70 C94.45,320.50 96.95,320.33 99.50,320.10 C102.05,319.87 104.97,319.52 107.20,319.30 C109.43,319.08 111.17,318.75 112.90,318.80 C114.63,318.85 115.53,319.60 117.60,319.60 C119.67,319.60 122.42,319.10 125.30,318.80 C128.18,318.50 132.03,318.12 134.90,317.80 C137.77,317.48 139.95,317.47 142.50,316.90 C145.05,316.33 147.65,315.27 150.20,314.40 C152.75,313.53 155.58,312.57 157.80,311.70 C160.02,310.83 161.75,310.10 163.50,309.20 C165.25,308.30 166.70,307.48 168.30,306.30 C169.90,305.12 171.78,303.22 173.10,302.10 C174.42,300.98 175.68,300.02 176.20,299.60" fill="none" stroke="#d83c4a" stroke-width="0.75" stroke-dasharray="5.6,2.5"/>
<rect x="46.80" y="176.40" width="129.50" height="160.90" fill="none" stroke="#3a3a3a" stroke-width="1"/>
<line x1="75.58" y1="176.40" x2="75.58" y2="179.90" stroke="#3a3a3a" stroke-width="1"/>
<line x1="75.58" y1="337.30" x2="75.58" y2="333.80" stroke="#3a3a3a" stroke-width="1"/>
<line x1="104.36" y1="176.40" x2="104.36" y2="179.90" stroke="#3a3a3a" stroke-width="1"/>
<line x1="104.36" y1="337.30" x2="104.36" y2="333.80" stroke="#3a3a3a" stroke-width="1"/>
<line x1="133.13" y1="176.40" x2="133.13" y2="179.90" stroke="#3a3a3a" stroke-width="1"/>
<line x1="133.13" y1="337.30" x2="133.13" y2="333.80" stroke="#3a3a3a" stroke-width="1"/>
<line x1="161.91" y1="176.40" x2="161.91" y2="179.90" stroke="#3a3a3a" stroke-width="1"/>
<line x1="161.91" y1="337.30" x2="161.91" y2="333.80" stroke="#3a3a3a" stroke-width="1"/>
<line x1="46.80" y1="322.00" x2="49.40" y2="322.00" stroke="#3a3a3a" stroke-width="1.1"/>
<line x1="176.30" y1="322.00" x2="173.70" y2="322.00" stroke="#3a3a3a" stroke-width="1.1"/>
<line x1="46.80" y1="273.47" x2="49.40" y2="273.47" stroke="#3a3a3a" stroke-width="1.1"/>
<line x1="176.30" y1="273.47" x2="173.70" y2="273.47" stroke="#3a3a3a" stroke-width="1.1"/>
<line x1="46.80" y1="224.94" x2="49.40" y2="224.94" stroke="#3a3a3a" stroke-width="1.1"/>
<line x1="176.30" y1="224.94" x2="173.70" y2="224.94" stroke="#3a3a3a" stroke-width="1.1"/>
<text x="193.00" y="188.60" font-size="8.55" fill="#151515"><tspan font-weight="bold">(g)</tspan> P addition after</text>
<text x="193.00" y="198.60" font-size="8.55" fill="#151515">simultaneous ads. with</text>
<text x="193.00" y="208.60" font-size="8.55" fill="#151515">60 min pre-saturation and</text>
<text x="193.00" y="218.60" font-size="8.55" fill="#151515">without dehydration</text>
<text x="193.00" y="228.60" font-size="8.55" fill="#151515">(210 min, S-3)</text>
<path d="M187.00,321.60 C192.83,321.60 215.50,321.28 222.00,321.60 C228.50,321.92 224.50,322.77 226.00,323.50 C227.50,324.23 229.33,326.08 231.00,326.00 C232.67,325.92 234.50,323.73 236.00,323.00 C237.50,322.27 233.33,321.83 240.00,321.60 C246.67,321.37 269.33,321.82 276.00,321.60 C282.67,321.38 278.67,320.30 280.00,320.30 C281.33,320.30 282.33,321.38 284.00,321.60 C285.67,321.82 288.33,321.95 290.00,321.60 C291.67,321.25 292.67,319.88 294.00,319.50 C295.33,319.12 296.83,318.95 298.00,319.30 C299.17,319.65 299.83,321.07 301.00,321.60 C302.17,322.13 303.83,321.77 305.00,322.50 C306.17,323.23 307.00,325.92 308.00,326.00 C309.00,326.08 310.17,323.73 311.00,323.00 C311.83,322.27 312.17,321.83 313.00,321.60 C313.83,321.37 315.50,321.60 316.00,321.60 L316.00,321.60 L187.00,321.60 Z" fill="#dcdcdc" stroke="none"/>
<path d="M187.00,321.60 C192.83,321.60 215.50,321.28 222.00,321.60 C228.50,321.92 224.50,322.77 226.00,323.50 C227.50,324.23 229.33,326.08 231.00,326.00 C232.67,325.92 234.50,323.73 236.00,323.00 C237.50,322.27 233.33,321.83 240.00,321.60 C246.67,321.37 269.33,321.82 276.00,321.60 C282.67,321.38 278.67,320.30 280.00,320.30 C281.33,320.30 282.33,321.38 284.00,321.60 C285.67,321.82 288.33,321.95 290.00,321.60 C291.67,321.25 292.67,319.88 294.00,319.50 C295.33,319.12 296.83,318.95 298.00,319.30 C299.17,319.65 299.83,321.07 301.00,321.60 C302.17,322.13 303.83,321.77 305.00,322.50 C306.17,323.23 307.00,325.92 308.00,326.00 C309.00,326.08 310.17,323.73 311.00,323.00 C311.83,322.27 312.17,321.83 313.00,321.60 C313.83,321.37 315.50,321.60 316.00,321.60" fill="none" stroke="#d4d4d4" stroke-width="0.8"/>
<path d="M187.00,322.00 C187.63,321.78 189.53,321.15 190.80,320.70 C192.07,320.25 193.17,319.20 194.60,319.30 C196.03,319.40 197.65,320.97 199.40,321.30 C201.15,321.63 203.18,321.30 205.10,321.30 C207.02,321.30 209.30,321.40 210.90,321.30 C212.50,321.20 213.43,321.03 214.70,320.70 C215.97,320.37 217.23,319.30 218.50,319.30 C219.77,319.30 220.87,320.00 222.30,320.70 C223.73,321.40 225.50,323.28 227.10,323.50 C228.70,323.72 230.30,322.78 231.90,322.00 C233.50,321.22 235.10,319.75 236.70,318.80 C238.30,317.85 239.92,317.10 241.50,316.30 C243.08,315.50 244.62,314.87 246.20,314.00 C247.78,313.13 249.62,311.23 251.00,311.10 C252.38,310.97 253.23,312.47 254.50,313.20 C255.77,313.93 257.12,316.00 258.60,315.50 C260.08,315.00 261.65,312.05 263.40,310.20 C265.15,308.35 267.50,305.10 269.10,304.40 C270.70,303.70 271.40,305.37 273.00,306.00 C274.60,306.63 276.80,307.35 278.70,308.20 C280.60,309.05 282.82,310.52 284.40,311.10 C285.98,311.68 286.77,311.92 288.20,311.70 C289.63,311.48 291.23,310.05 293.00,309.80 C294.77,309.55 297.05,309.98 298.80,310.20 C300.55,310.42 301.92,310.72 303.50,311.10 C305.08,311.48 307.08,313.13 308.30,312.50 C309.52,311.87 310.00,308.90 310.80,307.30 C311.60,305.70 312.23,303.38 313.10,302.90 C313.97,302.42 315.52,304.15 316.00,304.40" fill="none" stroke="#383838" stroke-width="0.95"/>
<path d="M187.00,320.70 C187.78,320.60 189.95,320.00 191.70,320.10 C193.45,320.20 195.27,321.20 197.50,321.30 C199.73,321.40 202.23,320.70 205.10,320.70 C207.97,320.70 211.52,321.20 214.70,321.30 C217.88,321.40 221.65,321.72 224.20,321.30 C226.75,320.88 228.08,319.63 230.00,318.80 C231.92,317.97 233.78,316.93 235.70,316.30 C237.62,315.67 239.58,315.45 241.50,315.00 C243.42,314.55 245.62,314.15 247.20,313.60 C248.78,313.05 249.78,311.77 251.00,311.70 C252.22,311.63 253.23,312.67 254.50,313.20 C255.77,313.73 257.12,315.40 258.60,314.90 C260.08,314.40 261.65,311.88 263.40,310.20 C265.15,308.52 267.35,305.28 269.10,304.80 C270.85,304.32 272.30,306.35 273.90,307.30 C275.50,308.25 277.10,309.87 278.70,310.50 C280.30,311.13 281.92,310.83 283.50,311.10 C285.08,311.37 286.62,311.78 288.20,312.10 C289.78,312.42 291.40,312.85 293.00,313.00 C294.60,313.15 296.20,313.32 297.80,313.00 C299.40,312.68 301.00,311.90 302.60,311.10 C304.20,310.30 305.97,309.32 307.40,308.20 C308.83,307.08 310.08,305.35 311.20,304.40 C312.32,303.45 313.30,302.50 314.10,302.50 C314.90,302.50 315.68,304.08 316.00,304.40" fill="none" stroke="#d83c4a" stroke-width="0.75" stroke-dasharray="5.6,2.5"/>
<rect x="186.60" y="176.40" width="129.00" height="161.40" fill="none" stroke="#3a3a3a" stroke-width="1"/>
<line x1="215.27" y1="176.40" x2="215.27" y2="179.90" stroke="#3a3a3a" stroke-width="1"/>
<line x1="215.27" y1="337.80" x2="215.27" y2="334.30" stroke="#3a3a3a" stroke-width="1"/>
<line x1="243.93" y1="176.40" x2="243.93" y2="179.90" stroke="#3a3a3a" stroke-width="1"/>
<line x1="243.93" y1="337.80" x2="243.93" y2="334.30" stroke="#3a3a3a" stroke-width="1"/>
<line x1="272.60" y1="176.40" x2="272.60" y2="179.90" stroke="#3a3a3a" stroke-width="1"/>
<line x1="272.60" y1="337.80" x2="272.60" y2="334.30" stroke="#3a3a3a" stroke-width="1"/>
<line x1="301.27" y1="176.40" x2="301.27" y2="179.90" stroke="#3a3a3a" stroke-width="1"/>
<line x1="301.27" y1="337.80" x2="301.27" y2="334.30" stroke="#3a3a3a" stroke-width="1"/>
<line x1="186.60" y1="322.00" x2="189.20" y2="322.00" stroke="#3a3a3a" stroke-width="1.1"/>
<line x1="315.60" y1="322.00" x2="313.00" y2="322.00" stroke="#3a3a3a" stroke-width="1.1"/>
<line x1="186.60" y1="273.47" x2="189.20" y2="273.47" stroke="#3a3a3a" stroke-width="1.1"/>
<line x1="315.60" y1="273.47" x2="313.00" y2="273.47" stroke="#3a3a3a" stroke-width="1.1"/>
<line x1="186.60" y1="224.94" x2="189.20" y2="224.94" stroke="#3a3a3a" stroke-width="1.1"/>
<line x1="315.60" y1="224.94" x2="313.00" y2="224.94" stroke="#3a3a3a" stroke-width="1.1"/>
<text x="332.90" y="188.60" font-size="8.55" fill="#151515"><tspan font-weight="bold">(h)</tspan> DW bridging after</text>
<text x="332.90" y="198.60" font-size="8.55" fill="#151515">single ads. without dehydration</text>
<text x="332.90" y="208.60" font-size="8.55" fill="#151515">(190 min, S-4)</text>
<line x1="359.3" y1="237.6" x2="382.8" y2="237.6" stroke="#555" stroke-width="0.9"/>
<line x1="359.3" y1="246.3" x2="382.8" y2="246.3" stroke="#d83c4a" stroke-width="0.75" stroke-dasharray="5.4,2.6"/>
<rect x="359.6" y="252.0" width="23.6" height="5.6" fill="#dcdcdc" stroke="#888" stroke-width="0.8"/>
<text x="389.90" y="240.30" font-size="7.6" font-weight="normal" text-anchor="start" fill="#151515" >Data</text>
<text x="389.90" y="248.60" font-size="7.6" font-weight="normal" text-anchor="start" fill="#151515" >Fit</text>
<text x="389.90" y="257.60" font-size="7.6" font-weight="normal" text-anchor="start" fill="#151515" letter-spacing="0.35">Residual</text>
<path d="M327.20,322.50 C334.17,322.50 361.62,322.78 369.00,322.50 C376.38,322.22 370.67,321.42 371.50,320.80 C372.33,320.18 373.18,319.23 374.00,318.80 C374.82,318.37 375.57,318.17 376.40,318.20 C377.23,318.23 378.15,318.57 379.00,319.00 C379.85,319.43 380.67,320.22 381.50,320.80 C382.33,321.38 379.25,322.22 384.00,322.50 C388.75,322.78 405.00,322.88 410.00,322.50 C415.00,322.12 412.67,320.20 414.00,320.20 C415.33,320.20 416.17,321.95 418.00,322.50 C419.83,323.05 423.10,323.17 425.00,323.50 C426.90,323.83 427.90,324.58 429.40,324.50 C430.90,324.42 431.57,323.33 434.00,323.00 C436.43,322.67 441.67,322.97 444.00,322.50 C446.33,322.03 446.67,320.20 448.00,320.20 C449.33,320.20 450.67,322.12 452.00,322.50 C453.33,322.88 455.33,322.50 456.00,322.50 L456.00,322.50 L327.20,322.50 Z" fill="#dcdcdc" stroke="none"/>
<path d="M327.20,322.50 C334.17,322.50 361.62,322.78 369.00,322.50 C376.38,322.22 370.67,321.42 371.50,320.80 C372.33,320.18 373.18,319.23 374.00,318.80 C374.82,318.37 375.57,318.17 376.40,318.20 C377.23,318.23 378.15,318.57 379.00,319.00 C379.85,319.43 380.67,320.22 381.50,320.80 C382.33,321.38 379.25,322.22 384.00,322.50 C388.75,322.78 405.00,322.88 410.00,322.50 C415.00,322.12 412.67,320.20 414.00,320.20 C415.33,320.20 416.17,321.95 418.00,322.50 C419.83,323.05 423.10,323.17 425.00,323.50 C426.90,323.83 427.90,324.58 429.40,324.50 C430.90,324.42 431.57,323.33 434.00,323.00 C436.43,322.67 441.67,322.97 444.00,322.50 C446.33,322.03 446.67,320.20 448.00,320.20 C449.33,320.20 450.67,322.12 452.00,322.50 C453.33,322.88 455.33,322.50 456.00,322.50" fill="none" stroke="#d4d4d4" stroke-width="0.8"/>
<path d="M327.20,322.50 C328.63,322.28 332.72,321.62 335.80,321.20 C338.88,320.78 342.63,320.28 345.70,320.00 C348.77,319.72 351.75,320.03 354.20,319.50 C356.65,318.97 358.55,317.65 360.40,316.80 C362.25,315.95 363.87,315.70 365.30,314.40 C366.73,313.10 367.77,311.33 369.00,309.00 C370.23,306.67 371.47,303.18 372.70,300.40 C373.93,297.62 375.18,294.35 376.40,292.30 C377.62,290.25 378.78,289.30 380.00,288.10 C381.22,286.90 382.47,286.13 383.70,285.10 C384.93,284.07 386.28,282.72 387.40,281.90 C388.52,281.08 389.37,280.28 390.40,280.20 C391.43,280.12 392.57,280.68 393.60,281.40 C394.63,282.12 395.73,283.40 396.60,284.50 C397.47,285.60 397.72,287.17 398.80,288.00 C399.88,288.83 401.65,289.43 403.10,289.50 C404.55,289.57 406.03,288.03 407.50,288.40 C408.97,288.77 410.43,290.23 411.90,291.70 C413.37,293.17 414.67,295.55 416.30,297.20 C417.93,298.85 419.88,300.15 421.70,301.60 C423.52,303.05 425.37,304.52 427.20,305.90 C429.03,307.28 431.07,308.62 432.70,309.90 C434.33,311.18 435.55,312.37 437.00,313.60 C438.45,314.83 440.12,316.83 441.40,317.30 C442.68,317.77 443.60,316.77 444.70,316.40 C445.80,316.03 446.73,315.10 448.00,315.10 C449.27,315.10 450.97,315.73 452.30,316.40 C453.63,317.07 455.38,318.65 456.00,319.10" fill="none" stroke="#383838" stroke-width="0.95"/>
<path d="M327.20,322.50 C328.63,322.28 332.72,321.62 335.80,321.20 C338.88,320.78 342.63,320.28 345.70,320.00 C348.77,319.72 351.75,320.03 354.20,319.50 C356.65,318.97 358.55,317.65 360.40,316.80 C362.25,315.95 363.67,315.92 365.30,314.40 C366.93,312.88 368.77,309.83 370.20,307.70 C371.63,305.57 372.67,303.43 373.90,301.60 C375.13,299.77 376.37,298.75 377.60,296.70 C378.83,294.65 380.07,291.35 381.30,289.30 C382.53,287.25 383.48,285.92 385.00,284.40 C386.52,282.88 388.65,279.97 390.40,280.20 C392.15,280.43 393.75,284.25 395.50,285.80 C397.25,287.35 399.08,289.25 400.90,289.50 C402.72,289.75 404.57,286.75 406.40,287.30 C408.23,287.85 410.25,291.33 411.90,292.80 C413.55,294.27 414.48,294.82 416.30,296.10 C418.12,297.38 420.80,299.22 422.80,300.50 C424.80,301.78 426.47,302.53 428.30,303.80 C430.13,305.07 431.98,306.47 433.80,308.10 C435.62,309.73 437.38,312.07 439.20,313.60 C441.02,315.13 442.87,316.57 444.70,317.30 C446.53,318.03 448.32,317.63 450.20,318.00 C452.08,318.37 455.03,319.25 456.00,319.50" fill="none" stroke="#d83c4a" stroke-width="0.75" stroke-dasharray="5.6,2.5"/>
<rect x="326.50" y="176.40" width="129.90" height="161.60" fill="none" stroke="#3a3a3a" stroke-width="1"/>
<line x1="355.37" y1="176.40" x2="355.37" y2="179.90" stroke="#3a3a3a" stroke-width="1"/>
<line x1="355.37" y1="338.00" x2="355.37" y2="334.50" stroke="#3a3a3a" stroke-width="1"/>
<line x1="384.23" y1="176.40" x2="384.23" y2="179.90" stroke="#3a3a3a" stroke-width="1"/>
<line x1="384.23" y1="338.00" x2="384.23" y2="334.50" stroke="#3a3a3a" stroke-width="1"/>
<line x1="413.10" y1="176.40" x2="413.10" y2="179.90" stroke="#3a3a3a" stroke-width="1"/>
<line x1="413.10" y1="338.00" x2="413.10" y2="334.50" stroke="#3a3a3a" stroke-width="1"/>
<line x1="441.97" y1="176.40" x2="441.97" y2="179.90" stroke="#3a3a3a" stroke-width="1"/>
<line x1="441.97" y1="338.00" x2="441.97" y2="334.50" stroke="#3a3a3a" stroke-width="1"/>
<line x1="326.50" y1="322.00" x2="329.10" y2="322.00" stroke="#3a3a3a" stroke-width="1.1"/>
<line x1="456.40" y1="322.00" x2="453.80" y2="322.00" stroke="#3a3a3a" stroke-width="1.1"/>
<line x1="326.50" y1="273.47" x2="329.10" y2="273.47" stroke="#3a3a3a" stroke-width="1.1"/>
<line x1="456.40" y1="273.47" x2="453.80" y2="273.47" stroke="#3a3a3a" stroke-width="1.1"/>
<line x1="326.50" y1="224.94" x2="329.10" y2="224.94" stroke="#3a3a3a" stroke-width="1.1"/>
<line x1="456.40" y1="224.94" x2="453.80" y2="224.94" stroke="#3a3a3a" stroke-width="1.1"/>
<text x="474.10" y="188.60" font-size="8.55" fill="#151515"><tspan font-weight="bold">(i)</tspan> DW addition after</text>
<text x="474.10" y="198.60" font-size="8.55" fill="#151515">DW bridging with dehydration</text>
<text x="474.10" y="208.60" font-size="8.55" fill="#151515">(420 min, S-4)</text>
<path d="M469.60,321.60 C475.50,321.60 498.43,321.45 505.00,321.60 C511.57,321.75 507.50,322.02 509.00,322.50 C510.50,322.98 512.33,324.50 514.00,324.50 C515.67,324.50 517.33,322.98 519.00,322.50 C520.67,322.02 517.17,321.75 524.00,321.60 C530.83,321.45 553.17,321.95 560.00,321.60 C566.83,321.25 563.00,320.10 565.00,319.50 C567.00,318.90 569.83,318.17 572.00,318.00 C574.17,317.83 576.17,318.08 578.00,318.50 C579.83,318.92 581.83,319.98 583.00,320.50 C584.17,321.02 584.33,321.02 585.00,321.60 C585.67,322.18 586.28,323.68 587.00,324.00 C587.72,324.32 588.63,323.90 589.30,323.50 C589.97,323.10 589.55,321.92 591.00,321.60 C592.45,321.28 596.83,321.60 598.00,321.60 L598.00,321.60 L469.60,321.60 Z" fill="#dcdcdc" stroke="none"/>
<path d="M469.60,321.60 C475.50,321.60 498.43,321.45 505.00,321.60 C511.57,321.75 507.50,322.02 509.00,322.50 C510.50,322.98 512.33,324.50 514.00,324.50 C515.67,324.50 517.33,322.98 519.00,322.50 C520.67,322.02 517.17,321.75 524.00,321.60 C530.83,321.45 553.17,321.95 560.00,321.60 C566.83,321.25 563.00,320.10 565.00,319.50 C567.00,318.90 569.83,318.17 572.00,318.00 C574.17,317.83 576.17,318.08 578.00,318.50 C579.83,318.92 581.83,319.98 583.00,320.50 C584.17,321.02 584.33,321.02 585.00,321.60 C585.67,322.18 586.28,323.68 587.00,324.00 C587.72,324.32 588.63,323.90 589.30,323.50 C589.97,323.10 589.55,321.92 591.00,321.60 C592.45,321.28 596.83,321.60 598.00,321.60" fill="none" stroke="#d4d4d4" stroke-width="0.8"/>
<path d="M469.60,320.70 C470.28,320.60 472.22,319.95 473.70,320.10 C475.18,320.25 476.90,321.60 478.50,321.60 C480.10,321.60 481.87,320.48 483.30,320.10 C484.73,319.72 485.50,319.20 487.10,319.30 C488.70,319.40 490.98,320.57 492.90,320.70 C494.82,320.83 496.85,320.20 498.60,320.10 C500.35,320.00 501.80,319.68 503.40,320.10 C505.00,320.52 506.45,322.03 508.20,322.60 C509.95,323.17 512.00,323.50 513.90,323.50 C515.80,323.50 517.85,322.60 519.60,322.60 C521.35,322.60 522.97,323.67 524.40,323.50 C525.83,323.33 526.92,322.55 528.20,321.60 C529.48,320.65 530.92,317.97 532.10,317.80 C533.28,317.63 534.05,319.70 535.30,320.60 C536.55,321.50 537.93,322.87 539.60,323.20 C541.27,323.53 543.40,322.87 545.30,322.60 C547.20,322.33 549.25,322.02 551.00,321.60 C552.75,321.18 554.37,320.67 555.80,320.10 C557.23,319.53 558.32,318.52 559.60,318.20 C560.88,317.88 562.22,318.83 563.50,318.20 C564.78,317.57 565.87,315.80 567.30,314.40 C568.73,313.00 570.50,310.25 572.10,309.80 C573.70,309.35 575.32,310.85 576.90,311.70 C578.48,312.55 580.17,313.95 581.60,314.90 C583.03,315.85 584.38,317.72 585.50,317.40 C586.62,317.08 587.35,314.53 588.30,313.00 C589.25,311.47 590.08,309.57 591.20,308.20 C592.32,306.83 593.87,305.82 595.00,304.80 C596.13,303.78 597.50,302.55 598.00,302.10" fill="none" stroke="#383838" stroke-width="0.95"/>
<path d="M469.60,320.70 C470.93,320.80 474.68,321.40 477.60,321.30 C480.52,321.20 483.92,320.20 487.10,320.10 C490.28,320.00 493.52,320.77 496.70,320.70 C499.88,320.63 504.13,319.93 506.20,319.70 C508.27,319.47 507.82,319.13 509.10,319.30 C510.38,319.47 512.15,320.25 513.90,320.70 C515.65,321.15 517.68,321.58 519.60,322.00 C521.52,322.42 523.80,323.32 525.40,323.20 C527.00,323.08 528.08,322.13 529.20,321.30 C530.32,320.47 531.08,318.35 532.10,318.20 C533.12,318.05 534.05,319.67 535.30,320.40 C536.55,321.13 537.93,322.33 539.60,322.60 C541.27,322.87 543.40,322.32 545.30,322.00 C547.20,321.68 549.08,321.15 551.00,320.70 C552.92,320.25 554.88,319.62 556.80,319.30 C558.72,318.98 560.60,319.20 562.50,318.80 C564.40,318.40 566.28,317.63 568.20,316.90 C570.12,316.17 572.08,314.57 574.00,314.40 C575.92,314.23 577.95,315.48 579.70,315.90 C581.45,316.32 583.07,317.38 584.50,316.90 C585.93,316.42 587.02,314.28 588.30,313.00 C589.58,311.72 590.92,310.47 592.20,309.20 C593.48,307.93 595.03,306.52 596.00,305.40 C596.97,304.28 597.67,302.98 598.00,302.50" fill="none" stroke="#d83c4a" stroke-width="0.75" stroke-dasharray="5.6,2.5"/>
<rect x="469.30" y="175.60" width="129.10" height="161.90" fill="none" stroke="#3a3a3a" stroke-width="1"/>
<line x1="497.99" y1="175.60" x2="497.99" y2="179.10" stroke="#3a3a3a" stroke-width="1"/>
<line x1="497.99" y1="337.50" x2="497.99" y2="334.00" stroke="#3a3a3a" stroke-width="1"/>
<line x1="526.68" y1="175.60" x2="526.68" y2="179.10" stroke="#3a3a3a" stroke-width="1"/>
<line x1="526.68" y1="337.50" x2="526.68" y2="334.00" stroke="#3a3a3a" stroke-width="1"/>
<line x1="555.37" y1="175.60" x2="555.37" y2="179.10" stroke="#3a3a3a" stroke-width="1"/>
<line x1="555.37" y1="337.50" x2="555.37" y2="334.00" stroke="#3a3a3a" stroke-width="1"/>
<line x1="584.06" y1="175.60" x2="584.06" y2="179.10" stroke="#3a3a3a" stroke-width="1"/>
<line x1="584.06" y1="337.50" x2="584.06" y2="334.00" stroke="#3a3a3a" stroke-width="1"/>
<line x1="469.30" y1="322.00" x2="471.90" y2="322.00" stroke="#3a3a3a" stroke-width="1.1"/>
<line x1="598.40" y1="322.00" x2="595.80" y2="322.00" stroke="#3a3a3a" stroke-width="1.1"/>
<line x1="469.30" y1="273.47" x2="471.90" y2="273.47" stroke="#3a3a3a" stroke-width="1.1"/>
<line x1="598.40" y1="273.47" x2="595.80" y2="273.47" stroke="#3a3a3a" stroke-width="1.1"/>
<line x1="469.30" y1="224.94" x2="471.90" y2="224.94" stroke="#3a3a3a" stroke-width="1.1"/>
<line x1="598.40" y1="224.94" x2="595.80" y2="224.94" stroke="#3a3a3a" stroke-width="1.1"/>
<rect x="609.70" y="176.6" width="129.70" height="76.6" fill="none" stroke="#3a3a3a" stroke-width="1"/>
<rect x="609.70" y="260.4" width="129.70" height="76.4" fill="none" stroke="#3a3a3a" stroke-width="1"/>
<line x1="638.52" y1="176.6" x2="638.52" y2="180.1" stroke="#3a3a3a" stroke-width="1"/>
<line x1="638.52" y1="336.7" x2="638.52" y2="333.2" stroke="#3a3a3a" stroke-width="1"/>
<line x1="667.34" y1="176.6" x2="667.34" y2="180.1" stroke="#3a3a3a" stroke-width="1"/>
<line x1="667.34" y1="336.7" x2="667.34" y2="333.2" stroke="#3a3a3a" stroke-width="1"/>
<line x1="696.17" y1="176.6" x2="696.17" y2="180.1" stroke="#3a3a3a" stroke-width="1"/>
<line x1="696.17" y1="336.7" x2="696.17" y2="333.2" stroke="#3a3a3a" stroke-width="1"/>
<line x1="724.99" y1="176.6" x2="724.99" y2="180.1" stroke="#3a3a3a" stroke-width="1"/>
<line x1="724.99" y1="336.7" x2="724.99" y2="333.2" stroke="#3a3a3a" stroke-width="1"/>
<text x="616.1" y="188.2" font-size="8.5" fill="#151515"><tspan font-weight="bold">(j)</tspan> 7 components</text>
<text x="611.90" y="215.90" font-size="7.65" font-weight="normal" text-anchor="start" fill="#151515" >Water</text>
<text x="611.90" y="229.40" font-size="7.65" font-weight="normal" text-anchor="start" fill="#151515" >Gt film</text>
<text x="611.90" y="245.60" font-size="7.65" font-weight="normal" text-anchor="start" fill="#151515" >Mh film</text>
<text x="611.90" y="268.50" font-size="7.65" font-weight="normal" text-anchor="start" fill="#151515" >P+NaCl precipitate</text>
<text x="611.90" y="293.20" font-size="7.65" font-weight="normal" text-anchor="start" fill="#151515" >Aqueous phosphate</text>
<text x="611.90" y="301.80" font-size="7.65" font-weight="normal" text-anchor="start" fill="#151515" >at pH 4</text>
<text x="611.90" y="314.10" font-size="7.65" font-weight="normal" text-anchor="start" fill="#151515" >P-Mh</text>
<text x="611.90" y="330.60" font-size="7.65" font-weight="normal" text-anchor="start" fill="#151515" >P-Gt</text>
<path d="M610.00,220.10 C611.67,220.07 616.23,219.98 620.00,219.90 C623.77,219.82 628.43,219.73 632.60,219.60 C636.77,219.47 640.90,219.27 645.00,219.10 C649.10,218.93 653.12,218.78 657.20,218.60 C661.28,218.42 666.37,218.18 669.50,218.00 C672.63,217.82 673.75,217.70 676.00,217.50 C678.25,217.30 680.82,217.05 683.00,216.80 C685.18,216.55 686.62,216.43 689.10,216.00 C691.58,215.57 694.98,215.03 697.90,214.20 C700.82,213.37 703.70,212.27 706.60,211.00 C709.50,209.73 713.07,207.83 715.30,206.60 C717.53,205.37 718.53,204.70 720.00,203.60 C721.47,202.50 722.77,201.18 724.10,200.00 C725.43,198.82 726.73,197.77 728.00,196.50 C729.27,195.23 730.70,193.52 731.70,192.40 C732.70,191.28 733.27,190.72 734.00,189.80 C734.73,188.88 735.23,188.10 736.10,186.90 C736.97,185.70 738.68,183.32 739.20,182.60" fill="none" stroke="#2b2b2b" stroke-width="0.9"/>
<path d="M610.00,235.20 C611.33,235.13 615.25,234.93 618.00,234.80 C620.75,234.67 623.50,234.58 626.50,234.40 C629.50,234.22 632.93,233.97 636.00,233.70 C639.07,233.43 642.57,233.10 644.90,232.80 C647.23,232.50 648.37,232.22 650.00,231.90 C651.63,231.58 653.08,231.10 654.70,230.90 C656.32,230.70 658.23,230.63 659.70,230.70 C661.17,230.77 662.28,231.10 663.50,231.30 C664.72,231.50 665.58,231.75 667.00,231.90 C668.42,232.05 670.17,232.12 672.00,232.20 C673.83,232.28 675.67,232.47 678.00,232.40 C680.33,232.33 683.42,232.02 686.00,231.80 C688.58,231.58 690.83,231.38 693.50,231.10 C696.17,230.82 699.42,230.40 702.00,230.10 C704.58,229.80 707.42,229.55 709.00,229.30 C710.58,229.05 710.63,229.10 711.50,228.60 C712.37,228.10 713.37,227.48 714.20,226.30 C715.03,225.12 715.77,223.15 716.50,221.50 C717.23,219.85 717.97,217.98 718.60,216.40 C719.23,214.82 719.75,213.27 720.30,212.00 C720.85,210.73 721.40,209.67 721.90,208.80 C722.40,207.93 722.87,207.23 723.30,206.80 C723.73,206.37 724.08,206.20 724.50,206.20 C724.92,206.20 725.32,206.37 725.80,206.80 C726.28,207.23 726.78,207.85 727.40,208.80 C728.02,209.75 728.78,211.23 729.50,212.50 C730.22,213.77 730.95,215.22 731.70,216.40 C732.45,217.58 733.27,218.68 734.00,219.60 C734.73,220.52 735.23,221.15 736.10,221.90 C736.97,222.65 738.68,223.73 739.20,224.10" fill="none" stroke="#2b2b2b" stroke-width="0.9"/>
<path d="M610.00,249.20 C611.67,249.22 616.23,249.27 620.00,249.30 C623.77,249.33 628.43,249.37 632.60,249.40 C636.77,249.43 640.90,249.47 645.00,249.50 C649.10,249.53 653.37,249.58 657.20,249.60 C661.03,249.62 664.53,249.58 668.00,249.60 C671.47,249.62 674.33,249.67 678.00,249.70 C681.67,249.73 686.33,249.80 690.00,249.80 C693.67,249.80 696.00,249.77 700.00,249.70 C704.00,249.63 709.67,249.55 714.00,249.40 C718.33,249.25 721.80,249.08 726.00,248.80 C730.20,248.52 737.00,247.88 739.20,247.70" fill="none" stroke="#2b2b2b" stroke-width="0.9"/>
<path d="M610.00,281.40 C611.72,281.43 617.63,281.60 620.30,281.60 C622.97,281.60 623.95,281.53 626.00,281.40 C628.05,281.27 630.77,281.07 632.60,280.80 C634.43,280.53 635.37,280.22 637.00,279.80 C638.63,279.38 640.82,278.73 642.40,278.30 C643.98,277.87 645.07,277.55 646.50,277.20 C647.93,276.85 649.42,276.58 651.00,276.20 C652.58,275.82 654.35,275.32 656.00,274.90 C657.65,274.48 659.40,274.05 660.90,273.70 C662.40,273.35 663.57,273.07 665.00,272.80 C666.43,272.53 668.00,272.35 669.50,272.10 C671.00,271.85 672.58,271.50 674.00,271.30 C675.42,271.10 676.95,270.93 678.00,270.90 C679.05,270.87 679.30,270.95 680.30,271.10 C681.30,271.25 682.62,271.52 684.00,271.80 C685.38,272.08 686.45,272.35 688.60,272.80 C690.75,273.25 694.13,273.95 696.90,274.50 C699.67,275.05 702.43,275.77 705.20,276.10 C707.97,276.43 710.72,276.43 713.50,276.50 C716.28,276.57 719.12,276.42 721.90,276.50 C724.68,276.58 727.35,276.70 730.20,277.00 C733.05,277.30 737.53,278.08 739.00,278.30" fill="none" stroke="#2b2b2b" stroke-width="0.9"/>
<path d="M610.00,305.20 C610.83,305.13 613.15,304.93 615.00,304.80 C616.85,304.67 619.10,304.57 621.10,304.40 C623.10,304.23 624.82,304.07 627.00,303.80 C629.18,303.53 632.03,303.17 634.20,302.80 C636.37,302.43 638.20,301.98 640.00,301.60 C641.80,301.22 643.40,300.78 645.00,300.50 C646.60,300.22 648.18,299.87 649.60,299.90 C651.02,299.93 652.27,300.37 653.50,300.70 C654.73,301.03 655.85,301.55 657.00,301.90 C658.15,302.25 658.95,302.60 660.40,302.80 C661.85,303.00 664.43,303.13 665.70,303.10 C666.97,303.07 667.35,302.87 668.00,302.60 C668.65,302.33 669.05,302.10 669.60,301.50 C670.15,300.90 670.75,299.82 671.30,299.00 C671.85,298.18 672.42,297.12 672.90,296.60 C673.38,296.08 673.80,295.87 674.20,295.90 C674.60,295.93 674.93,296.35 675.30,296.80 C675.67,297.25 675.92,297.87 676.40,298.60 C676.88,299.33 677.43,300.50 678.20,301.20 C678.97,301.90 679.95,302.42 681.00,302.80 C682.05,303.18 682.53,303.27 684.50,303.50 C686.47,303.73 690.03,304.08 692.80,304.20 C695.57,304.32 698.68,304.32 701.10,304.20 C703.52,304.08 705.57,303.88 707.30,303.50 C709.03,303.12 710.47,302.30 711.50,301.90 C712.53,301.50 712.83,301.17 713.50,301.10 C714.17,301.03 714.80,301.27 715.50,301.50 C716.20,301.73 716.30,301.98 717.70,302.50 C719.10,303.02 721.82,304.08 723.90,304.60 C725.98,305.12 728.47,305.40 730.20,305.60 C731.93,305.80 732.83,305.52 734.30,305.80 C735.77,306.08 738.22,307.05 739.00,307.30" fill="none" stroke="#2b2b2b" stroke-width="0.9"/>
<path d="M610.00,320.10 C611.85,319.93 617.07,319.63 621.10,319.10 C625.13,318.57 629.83,317.72 634.20,316.90 C638.57,316.08 642.93,315.08 647.30,314.20 C651.67,313.32 657.28,312.23 660.40,311.60 C663.52,310.97 664.25,310.77 666.00,310.40 C667.75,310.03 669.48,309.60 670.90,309.40 C672.32,309.20 673.32,309.15 674.50,309.20 C675.68,309.25 677.03,309.53 678.00,309.70 C678.97,309.87 678.53,309.83 680.30,310.20 C682.07,310.57 685.83,311.28 688.60,311.90 C691.37,312.52 694.13,313.38 696.90,313.90 C699.67,314.42 702.43,314.72 705.20,315.00 C707.97,315.28 710.72,315.37 713.50,315.60 C716.28,315.83 719.12,316.17 721.90,316.40 C724.68,316.63 727.35,316.72 730.20,317.00 C733.05,317.28 737.53,317.92 739.00,318.10" fill="none" stroke="#2b2b2b" stroke-width="0.9"/>
<path d="M610.00,333.20 C610.83,333.30 613.15,333.62 615.00,333.80 C616.85,333.98 618.93,334.17 621.10,334.30 C623.27,334.43 625.82,334.55 628.00,334.60 C630.18,334.65 632.03,334.65 634.20,334.60 C636.37,334.55 638.82,334.42 641.00,334.30 C643.18,334.18 645.38,334.07 647.30,333.90 C649.22,333.73 650.75,333.52 652.50,333.30 C654.25,333.08 655.60,332.78 657.80,332.60 C660.00,332.42 663.30,332.30 665.70,332.20 C668.10,332.10 670.48,332.13 672.20,332.00 C673.92,331.87 674.65,331.65 676.00,331.40 C677.35,331.15 679.05,330.77 680.30,330.50 C681.55,330.23 682.47,330.07 683.50,329.80 C684.53,329.53 685.50,329.23 686.50,328.90 C687.50,328.57 688.45,328.12 689.50,327.80 C690.55,327.48 691.92,327.08 692.80,327.00 C693.68,326.92 694.12,327.12 694.80,327.30 C695.48,327.48 696.03,327.78 696.90,328.10 C697.77,328.42 698.95,328.87 700.00,329.20 C701.05,329.53 701.87,329.82 703.20,330.10 C704.53,330.38 706.28,330.65 708.00,330.90 C709.72,331.15 710.85,331.38 713.50,331.60 C716.15,331.82 719.65,332.03 723.90,332.20 C728.15,332.37 736.48,332.53 739.00,332.60" fill="none" stroke="#2b2b2b" stroke-width="0.9"/>
<rect x="709" y="234.5" width="2.2" height="11.8" fill="#111"/>
<text x="714.20" y="243.20" font-size="7.65" font-weight="normal" text-anchor="start" fill="#151515" >0.2</text>
<rect x="709" y="285.4" width="2.2" height="12" fill="#111"/>
<text x="714.20" y="294.00" font-size="7.65" font-weight="normal" text-anchor="start" fill="#151515" >0.05</text>
<text x="42.30" y="8.40" font-size="10.2" font-weight="normal" text-anchor="end" fill="#151515" >0.09</text>
<text x="42.30" y="56.16" font-size="10.2" font-weight="normal" text-anchor="end" fill="#151515" >0.06</text>
<text x="42.30" y="104.33" font-size="10.2" font-weight="normal" text-anchor="end" fill="#151515" >0.03</text>
<text x="42.30" y="152.50" font-size="10.2" font-weight="normal" text-anchor="end" fill="#151515" >0.00</text>
<text x="42.30" y="181.30" font-size="10.2" font-weight="normal" text-anchor="end" fill="#151515" >0.09</text>
<text x="42.30" y="229.44" font-size="10.2" font-weight="normal" text-anchor="end" fill="#151515" >0.06</text>
<text x="42.30" y="277.97" font-size="10.2" font-weight="normal" text-anchor="end" fill="#151515" >0.03</text>
<text x="42.30" y="326.50" font-size="10.2" font-weight="normal" text-anchor="end" fill="#151515" >0.00</text>
<text x="45.40" y="348.80" font-size="9.8" font-weight="normal" text-anchor="middle" fill="#151515" >1300</text>
<text x="74.22" y="348.80" font-size="9.8" font-weight="normal" text-anchor="middle" fill="#151515" >1200</text>
<text x="104.44" y="348.80" font-size="9.8" font-weight="normal" text-anchor="middle" fill="#151515" >1100</text>
<text x="132.97" y="348.80" font-size="9.8" font-weight="normal" text-anchor="middle" fill="#151515" >1000</text>
<text x="161.89" y="348.80" font-size="9.8" font-weight="normal" text-anchor="middle" fill="#151515" >900</text>
<text x="111.65" y="362.1" font-size="10.3" font-weight="bold" text-anchor="middle" fill="#151515">Wavenumber (cm<tspan font-size="6.5" dy="-3.5">-1</tspan><tspan dy="3.5">)</tspan></text>
<text x="213.82" y="348.80" font-size="9.8" font-weight="normal" text-anchor="middle" fill="#151515" >1200</text>
<text x="243.84" y="348.80" font-size="9.8" font-weight="normal" text-anchor="middle" fill="#151515" >1100</text>
<text x="272.17" y="348.80" font-size="9.8" font-weight="normal" text-anchor="middle" fill="#151515" >1000</text>
<text x="300.89" y="348.80" font-size="9.8" font-weight="normal" text-anchor="middle" fill="#151515" >900</text>
<text x="251.00" y="362.1" font-size="10.3" font-weight="bold" text-anchor="middle" fill="#151515">Wavenumber (cm<tspan font-size="6.5" dy="-3.5">-1</tspan><tspan dy="3.5">)</tspan></text>
<text x="353.99" y="348.80" font-size="9.8" font-weight="normal" text-anchor="middle" fill="#151515" >1200</text>
<text x="384.28" y="348.80" font-size="9.8" font-weight="normal" text-anchor="middle" fill="#151515" >1100</text>
<text x="412.87" y="348.80" font-size="9.8" font-weight="normal" text-anchor="middle" fill="#151515" >1000</text>
<text x="441.86" y="348.80" font-size="9.8" font-weight="normal" text-anchor="middle" fill="#151515" >900</text>
<text x="391.50" y="362.1" font-size="10.3" font-weight="bold" text-anchor="middle" fill="#151515">Wavenumber (cm<tspan font-size="6.5" dy="-3.5">-1</tspan><tspan dy="3.5">)</tspan></text>
<text x="495.64" y="348.80" font-size="9.8" font-weight="normal" text-anchor="middle" fill="#151515" >1200</text>
<text x="525.69" y="348.80" font-size="9.8" font-weight="normal" text-anchor="middle" fill="#151515" >1100</text>
<text x="554.03" y="348.80" font-size="9.8" font-weight="normal" text-anchor="middle" fill="#151515" >1000</text>
<text x="582.78" y="348.80" font-size="9.8" font-weight="normal" text-anchor="middle" fill="#151515" >900</text>
<text x="532.85" y="362.1" font-size="10.3" font-weight="bold" text-anchor="middle" fill="#151515">Wavenumber (cm<tspan font-size="6.5" dy="-3.5">-1</tspan><tspan dy="3.5">)</tspan></text>
<text x="637.12" y="348.80" font-size="9.8" font-weight="normal" text-anchor="middle" fill="#151515" >1200</text>
<text x="667.34" y="348.80" font-size="9.8" font-weight="normal" text-anchor="middle" fill="#151515" >1100</text>
<text x="695.87" y="348.80" font-size="9.8" font-weight="normal" text-anchor="middle" fill="#151515" >1000</text>
<text x="724.79" y="348.80" font-size="9.8" font-weight="normal" text-anchor="middle" fill="#151515" >900</text>
<text x="674.55" y="362.1" font-size="10.3" font-weight="bold" text-anchor="middle" fill="#151515">Wavenumber (cm<tspan font-size="6.5" dy="-3.5">-1</tspan><tspan dy="3.5">)</tspan></text>
<text transform="translate(9.1,84.45) rotate(-90)" font-size="12" font-weight="bold" text-anchor="middle" fill="#151515">Absorbance</text>
<text transform="translate(9.1,258.55) rotate(-90)" font-size="12" font-weight="bold" text-anchor="middle" fill="#151515">Absorbance</text>
<text transform="translate(746.9,257.3) rotate(90)" font-size="12" font-weight="bold" text-anchor="middle" fill="#151515">Absorbance (a.u.)</text>
</g>
</svg>
</body></html>
